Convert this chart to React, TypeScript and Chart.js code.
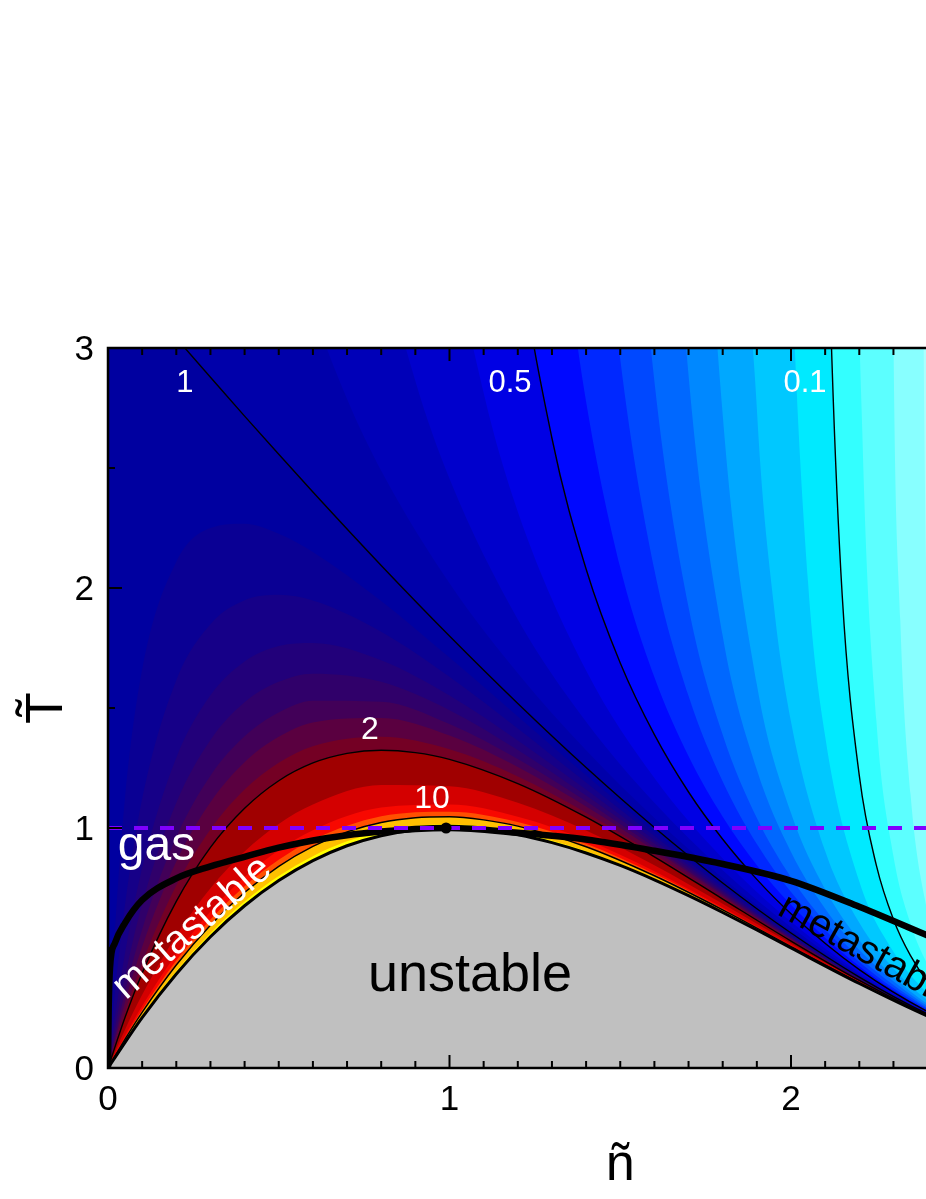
import React, { useEffect, useRef } from "react";
import { Chart, registerables } from "chart.js";

Chart.register(...registerables);

// ---------- axes ----------
const xMajorTicks = [0, 1, 2, 3];
const xTickLabels = ["0", "1", "2", "3"];
const xMinorTicks = [
  0.1, 0.2, 0.3, 0.4, 0.5, 0.6, 0.7, 0.8, 0.9, 1.1, 1.2, 1.3, 1.4, 1.5, 1.6, 1.7, 1.8, 1.9,
  2.1, 2.2, 2.3, 2.4, 2.5, 2.6, 2.7, 2.8, 2.9,
];
const yMajorTicks = [0, 1, 2, 3];
const yTickLabels = ["0", "1", "2", "3"];
const yMinorTicks = [0.5, 1.5, 2.5];

// ---------- curves: [n, T] ----------
// unstable region boundary (spinodal)
const spinodal = [
  [0, 0], [0.1, 0.21], [0.2, 0.392], [0.3, 0.547], [0.4, 0.676], [0.5, 0.781], [0.6, 0.864],
  [0.7, 0.926], [0.8, 0.968], [0.9, 0.992], [1.0, 1.0], [1.1, 0.993], [1.2, 0.972], [1.3, 0.939],
  [1.4, 0.896], [1.5, 0.844], [1.6, 0.784], [1.7, 0.718], [1.8, 0.648], [1.9, 0.575], [2.0, 0.5],
  [2.2, 0.352], [2.4, 0.216], [2.6, 0.104], [2.8, 0.028], [3.0, 0],
];
// thick coexistence curve
const binodal = [
  [0, 0], [0.002, 0.25], [0.006, 0.42], [0.02, 0.52], [0.05, 0.605], [0.1, 0.7], [0.2, 0.79],
  [0.3, 0.84], [0.4, 0.88], [0.5, 0.918], [0.6, 0.948], [0.7, 0.97], [0.8, 0.985], [0.9, 0.996],
  [1.0, 1.0], [1.2, 0.98], [1.4, 0.952], [1.6, 0.905], [1.8, 0.85], [2.0, 0.78], [2.2, 0.672],
  [2.4, 0.552], [2.6, 0.43],
];
// critical point
const criticalPoint = [[0.99, 1.0]];
// reference isotherm
const isothermT1 = [[0, 1], [3, 1]];

// iso-compressibility contours above 1 (domes over the spinodal)
const level107 = [
  [0, 0], [0.01, 0.312], [0.02, 0.57], [0.05, 1.129], [0.1, 1.66], [0.2, 2.109], [0.3, 2.25],
  [0.4, 2.268], [0.5, 2.226], [0.6, 2.15], [0.8, 1.946], [1.0, 1.71], [1.2, 1.465], [1.4, 1.22],
  [1.6, 0.984], [1.8, 0.762], [2.0, 0.558], [2.2, 0.377], [2.4, 0.2244], [2.6, 0.106], [3, 0],
];
const level115 = [
  [0, 0], [0.02, 0.313], [0.05, 0.683], [0.1, 1.122], [0.2, 1.616], [0.3, 1.849], [0.4, 1.949],
  [0.5, 1.972], [0.6, 1.948], [0.8, 1.818], [1.0, 1.63], [1.2, 1.415], [1.4, 1.19], [1.6, 0.967],
  [1.8, 0.753], [2.0, 0.553], [2.2, 0.375], [2.4, 0.224], [2.6, 0.106], [3, 0],
];
const level125 = [
  [0, 0], [0.02, 0.211], [0.05, 0.48], [0.1, 0.833], [0.2, 1.293], [0.3, 1.553], [0.4, 1.694],
  [0.5, 1.758], [0.6, 1.771], [0.8, 1.699], [1.0, 1.552], [1.2, 1.365], [1.4, 1.16], [1.6, 0.949],
  [1.8, 0.743], [2.0, 0.549], [2.2, 0.373], [2.4, 0.2231], [2.6, 0.1055], [3, 0],
];
const level135 = [
  [0, 0], [0.02, 0.165], [0.05, 0.383], [0.1, 0.683], [0.2, 1.105], [0.3, 1.367], [0.4, 1.524],
  [0.5, 1.609], [0.6, 1.643], [0.8, 1.609], [1.0, 1.491], [1.2, 1.325], [1.4, 1.135], [1.6, 0.935],
  [1.8, 0.735], [2.0, 0.545], [2.2, 0.372], [2.4, 0.2226], [2.6, 0.105], [3, 0],
];
const level147 = [
  [0, 0], [0.05, 0.318], [0.1, 0.577], [0.2, 0.962], [0.3, 1.218], [0.4, 1.382], [0.5, 1.481],
  [0.6, 1.53], [0.8, 1.526], [1.0, 1.433], [1.2, 1.287], [1.4, 1.111], [1.6, 0.92], [1.8, 0.727],
  [2.0, 0.541], [2.2, 0.37], [2.4, 0.222], [2.6, 0.105], [3, 0],
];
const level16 = [
  [0, 0], [0.05, 0.275], [0.1, 0.505], [0.2, 0.86], [0.3, 1.107], [0.4, 1.274], [0.5, 1.38],
  [0.6, 1.44], [0.8, 1.458], [1.0, 1.385], [1.2, 1.254], [1.4, 1.09], [1.6, 0.908], [1.8, 0.72],
  [2.0, 0.537], [2.2, 0.368], [2.4, 0.2215], [2.6, 0.105], [3, 0],
];
const level18 = [
  [0, 0], [0.05, 0.235], [0.1, 0.437], [0.2, 0.76], [0.3, 0.994], [0.4, 1.16], [0.5, 1.272],
  [0.6, 1.341], [0.8, 1.38], [1.0, 1.328], [1.2, 1.215], [1.4, 1.064], [1.6, 0.892], [1.8, 0.711],
  [2.0, 0.533], [2.2, 0.3665], [2.4, 0.221], [2.6, 0.105], [3, 0],
];
const level2 = [
  [0, 0], [0.05, 0.211], [0.1, 0.395], [0.2, 0.694], [0.3, 0.919], [0.4, 1.082], [0.5, 1.197],
  [0.6, 1.271], [0.7, 1.311], [0.8, 1.324], [0.9, 1.314], [1.0, 1.286], [1.2, 1.185], [1.4, 1.045],
  [1.6, 0.88], [1.8, 0.704], [2.0, 0.529], [2.2, 0.365], [2.4, 0.22], [2.6, 0.105], [3, 0],
];
const level3 = [
  [0, 0], [0.05, 0.1605], [0.1, 0.305], [0.2, 0.552], [0.3, 0.749], [0.4, 0.902], [0.5, 1.017],
  [0.6, 1.098], [0.8, 1.179], [1.0, 1.174], [1.2, 1.105], [1.4, 0.99], [1.6, 0.845], [1.8, 0.6845],
  [2.0, 0.519], [2.2, 0.361], [2.4, 0.219], [2.6, 0.1045], [3, 0],
];
const level5 = [
  [0, 0], [0.05, 0.135], [0.1, 0.2586], [0.2, 0.4747], [0.3, 0.6525], [0.4, 0.7955], [0.5, 0.907],
  [0.6, 0.991], [0.8, 1.085], [1.0, 1.0976], [1.2, 1.047], [1.4, 0.95], [1.6, 0.82], [1.8, 0.669],
  [2.0, 0.511], [2.2, 0.357], [2.4, 0.2177], [2.6, 0.104], [3, 0],
];
const level7 = [
  [0, 0], [0.05, 0.1262], [0.1, 0.2426], [0.2, 0.4477], [0.3, 0.6183], [0.4, 0.7573], [0.5, 0.8673],
  [0.6, 0.9509], [0.8, 1.0486], [1.0, 1.0678], [1.2, 1.0247], [1.4, 0.9339], [1.6, 0.8092],
  [1.8, 0.6632], [2.0, 0.508], [2.2, 0.3556], [2.4, 0.2172], [2.6, 0.104], [3, 0],
];
const level10 = [
  [0, 0], [0.05, 0.1204], [0.1, 0.232], [0.2, 0.429], [0.3, 0.595], [0.4, 0.731], [0.5, 0.84],
  [0.6, 0.923], [0.7, 0.984], [0.8, 1.023], [0.9, 1.043], [1.0, 1.047], [1.1, 1.034], [1.2, 1.008],
  [1.4, 0.922], [1.6, 0.801], [1.8, 0.659], [2.0, 0.506], [2.2, 0.355], [2.4, 0.217], [2.6, 0.104], [3, 0],
];
const level30 = [
  [0, 0], [0.1, 0.217], [0.2, 0.4037], [0.3, 0.5619], [0.4, 0.6934], [0.5, 0.7998], [0.6, 0.8828],
  [0.7, 0.9443], [0.8, 0.9857], [0.9, 1.0087], [1.0, 1.015], [1.1, 1.0062], [1.2, 0.9838],
  [1.4, 0.9046], [1.6, 0.7897], [1.8, 0.6515], [2.0, 0.5019], [2.2, 0.353], [2.4, 0.2163], [2.6, 0.104], [3, 0],
];

// iso-compressibility contours at or below 1
const level1 = [
  [0, 3.375], [0.1, 3.207], [0.2, 3.041], [0.3, 2.878], [0.4, 2.716], [0.5, 2.557], [0.6, 2.4],
  [0.8, 2.094], [1.0, 1.8], [1.2, 1.519], [1.4, 1.252], [1.6, 1.002], [1.8, 0.771], [2.0, 0.5625],
  [2.2, 0.379], [2.4, 0.225], [2.6, 0.106], [3, 0],
];
const level088 = [
  [0.25, 10.47], [0.3, 6.873], [0.4, 4.615], [0.5, 3.705], [0.6, 3.168], [0.7, 2.788], [0.8, 2.489],
  [1.0, 2.02], [1.2, 1.645], [1.4, 1.324], [1.6, 1.042], [1.8, 0.792], [2.0, 0.572], [2.2, 0.383],
  [2.4, 0.2263], [2.6, 0.106], [3, 0],
];
const level075 = [
  [0.6, 5.89], [0.7, 4.28], [0.8, 3.421], [0.9, 2.862], [1.0, 2.455], [1.2, 1.869], [1.4, 1.443],
  [1.6, 1.105], [1.8, 0.824], [2.0, 0.587], [2.2, 0.389], [2.4, 0.228], [2.6, 0.1065], [3, 0],
];
const level062 = [
  [0.7, 17.81], [0.8, 7.299], [0.9, 4.732], [1.0, 3.532], [1.1, 2.812], [1.2, 2.318], [1.4, 1.656],
  [1.6, 1.208], [1.8, 0.873], [2.0, 0.609], [2.2, 0.3976], [2.4, 0.2309], [2.6, 0.107], [3, 0],
];
const level05 = [
  [1.0, 9.0], [1.1, 5.02], [1.2, 3.471], [1.3, 2.624], [1.4, 2.079], [1.5, 1.6875], [1.6, 1.389],
  [1.7, 1.15], [1.8, 0.953], [1.9, 0.786], [2.0, 0.643], [2.2, 0.41], [2.4, 0.235], [2.6, 0.108], [3, 0],
];
const level042 = [
  [1.15, 10.4], [1.2, 6.804], [1.3, 3.989], [1.35, 3.284], [1.4, 2.776], [1.5, 2.085], [1.6, 1.628],
  [1.7, 1.299], [1.8, 1.047], [1.9, 0.845], [2.0, 0.68], [2.2, 0.424], [2.4, 0.2387], [2.6, 0.1086], [3, 0],
];
const level035 = [
  [1.3, 11.38], [1.4, 4.78], [1.45, 3.67], [1.5, 2.953], [1.6, 2.075], [1.7, 1.55], [1.8, 1.194],
  [1.9, 0.933], [2.0, 0.733], [2.2, 0.442], [2.4, 0.244], [2.6, 0.11], [3, 0],
];
const level03 = [
  [1.4, 17.28], [1.45, 7.904], [1.5, 5.0625], [1.55, 3.682], [1.6, 2.861], [1.7, 1.92], [1.8, 1.389],
  [1.9, 1.0415], [2.0, 0.794], [2.1, 0.6075], [2.2, 0.461], [2.4, 0.249], [2.6, 0.1105], [3, 0],
];
const level025 = [
  [1.55, 12.43], [1.6, 6.08], [1.65, 3.957], [1.7, 2.886], [1.8, 1.8], [1.9, 1.243], [2.0, 0.9],
  [2.1, 0.664], [2.2, 0.492], [2.4, 0.257], [2.6, 0.112], [3, 0],
];
const level021 = [
  [1.65, 21.05], [1.7, 6.787], [1.75, 3.945], [1.8, 2.722], [1.9, 1.5975], [2.0, 1.062], [2.1, 0.744],
  [2.2, 0.532], [2.3, 0.38], [2.4, 0.2668], [2.6, 0.1136], [3, 0],
];
const level017 = [
  [1.8, 11.0], [1.85, 4.51], [1.9, 2.748], [1.95, 1.924], [2.0, 1.443], [2.1, 0.904], [2.2, 0.605],
  [2.3, 0.4145], [2.4, 0.2825], [2.6, 0.116], [3, 0],
];
const level013 = [
  [1.95, 9.316], [1.98, 4.649], [2.0, 3.441], [2.05, 2.023], [2.1, 1.382], [2.2, 0.777], [2.3, 0.4848],
  [2.4, 0.312], [2.5, 0.1987], [2.6, 0.1205], [3, 0],
];
const level01 = [
  [2.09, 5.42], [2.11, 3.48], [2.12, 2.942], [2.15, 1.969], [2.2, 1.218], [2.25, 0.844], [2.3, 0.619],
  [2.35, 0.468], [2.4, 0.36], [2.5, 0.216], [2.6, 0.126], [3, 0],
];
const level008 = [
  [2.17, 8.65], [2.19, 4.05], [2.21, 2.589], [2.25, 1.446], [2.3, 0.882], [2.35, 0.601], [2.4, 0.432],
  [2.5, 0.239], [2.6, 0.134], [3, 0],
];
const level006 = [
  [2.28, 7.39], [2.3, 3.043], [2.32, 1.866], [2.35, 1.141], [2.4, 0.648], [2.45, 0.421], [2.5, 0.291],
  [2.6, 0.148], [3, 0],
];
const level0045 = [
  [2.375, 6.53], [2.39, 2.737], [2.42, 1.2016], [2.45, 0.732], [2.5, 0.408], [2.6, 0.172], [3, 0],
];

// ---------- colours (styles, kept apart from the data) ----------
const baseColor = "#0000a0";
const domeLevels = [level107, level115, level125, level135, level147, level16, level18, level2, level3, level5, level7, level10, level30];
const domeColors = ["#0a0094", "#160088", "#22007a", "#30006a", "#420058", "#5a0040", "#740024", "#a00000", "#d40000", "#f80800", "#ff5000", "#ffc000", "#ffff00"];
const openLevels = [level1, level088, level075, level062, level05, level042, level035, level03, level025, level021, level017, level013, level01, level008, level006, level0045];
const openColors = ["#0000aa", "#0000b8", "#0000cc", "#0000e4", "#0008ff", "#0028ff", "#0048ff", "#0068ff", "#0088ff", "#00a8ff", "#00c8ff", "#00eaff", "#33ffff", "#5cffff", "#88ffff", "#aaffff"];
const contourLines = [level1, level05, level01, level2, level10];

const FONT = '"Liberation Sans", Arial, Helvetica, sans-serif';

type Note = { text: string; x: number; y: number; size: number; color: string; rot: number; align: CanvasTextAlign; base: CanvasTextBaseline };
const notes: Note[] = [
  { text: "1", x: 0.225, y: 2.854, size: 31, color: "#ffffff", rot: 0, align: "center", base: "middle" },
  { text: "0.5", x: 1.177, y: 2.854, size: 31, color: "#ffffff", rot: 0, align: "center", base: "middle" },
  { text: "0.1", x: 2.041, y: 2.854, size: 31, color: "#ffffff", rot: 0, align: "center", base: "middle" },
  { text: "2", x: 0.767, y: 1.408, size: 32, color: "#ffffff", rot: 0, align: "center", base: "middle" },
  { text: "10", x: 0.949, y: 1.12, size: 32, color: "#ffffff", rot: 0, align: "center", base: "middle" },
  { text: "gas", x: 0.142, y: 0.867, size: 48, color: "#ffffff", rot: 0, align: "center", base: "alphabetic" },
  { text: "metastable", x: 0.247, y: 0.583, size: 40, color: "#ffffff", rot: -41, align: "center", base: "middle" },
  { text: "unstable", x: 1.06, y: 0.383, size: 54, color: "#000000", rot: 0, align: "center", base: "middle" },
  { text: "metastable", x: 1.956, y: 0.642, size: 40, color: "#000000", rot: 29, align: "left", base: "alphabetic" },
];

const toXY = (a: number[][]) => a.map(([x, y]) => ({ x, y }));

const decor = {
  id: "decor",
  beforeDatasetsDraw(chart: any) {
    const { ctx, chartArea: a } = chart;
    ctx.save();
    ctx.fillStyle = baseColor;
    ctx.fillRect(a.left, a.top, a.right - a.left, a.bottom - a.top);
    ctx.restore();
  },
  afterDatasetsDraw(chart: any) {
    const { ctx, chartArea: a } = chart;
    const xs = chart.scales.x;
    const ys = chart.scales.y;
    ctx.save();

    for (const n of notes) {
      ctx.save();
      ctx.translate(xs.getPixelForValue(n.x), ys.getPixelForValue(n.y));
      ctx.rotate((n.rot * Math.PI) / 180);
      ctx.font = `${n.size}px ${FONT}`;
      ctx.fillStyle = n.color;
      ctx.textAlign = n.align;
      ctx.textBaseline = n.base;
      ctx.fillText(n.text, 0, 0);
      ctx.restore();
    }

    ctx.strokeStyle = "#000";
    ctx.lineWidth = 2.5;
    ctx.beginPath();
    ctx.moveTo(a.left, a.top);
    ctx.lineTo(a.right, a.top);
    ctx.lineTo(a.right, a.bottom);
    ctx.lineTo(a.left, a.bottom);
    ctx.closePath();
    ctx.stroke();

    ctx.lineWidth = 2;
    ctx.beginPath();
    for (const v of xMajorTicks) {
      const px = xs.getPixelForValue(v);
      ctx.moveTo(px, a.bottom); ctx.lineTo(px, a.bottom - 13);
      ctx.moveTo(px, a.top); ctx.lineTo(px, a.top + 13);
    }
    for (const v of xMinorTicks) {
      const px = xs.getPixelForValue(v);
      ctx.moveTo(px, a.bottom); ctx.lineTo(px, a.bottom - 7);
      ctx.moveTo(px, a.top); ctx.lineTo(px, a.top + 7);
    }
    for (const v of yMajorTicks) {
      const py = ys.getPixelForValue(v);
      ctx.moveTo(a.left, py); ctx.lineTo(a.left + 14, py);
      ctx.moveTo(a.right, py); ctx.lineTo(a.right - 14, py);
    }
    for (const v of yMinorTicks) {
      const py = ys.getPixelForValue(v);
      ctx.moveTo(a.left, py); ctx.lineTo(a.left + 7, py);
      ctx.moveTo(a.right, py); ctx.lineTo(a.right - 7, py);
    }
    ctx.stroke();

    ctx.fillStyle = "#000";
    ctx.font = `35px ${FONT}`;
    ctx.textAlign = "center";
    ctx.textBaseline = "alphabetic";
    xMajorTicks.forEach((v, i) => {
      ctx.fillText(xTickLabels[i], xs.getPixelForValue(v), a.bottom + 42);
    });
    ctx.textAlign = "right";
    yMajorTicks.forEach((v, i) => {
      ctx.fillText(yTickLabels[i], a.left - 14, ys.getPixelForValue(v) + 12);
    });

    ctx.font = `52px ${FONT}`;
    ctx.textAlign = "center";
    ctx.textBaseline = "alphabetic";
    ctx.fillText("\u00f1", (a.left + a.right) / 2, 1180);
    ctx.save();
    ctx.translate(62, (a.top + a.bottom) / 2);
    ctx.rotate(-Math.PI / 2);
    ctx.fillText("T\u0303", 0, 0);
    ctx.restore();

    ctx.restore();
  },
};

export default function App() {
  const ref = useRef<HTMLCanvasElement>(null);
  useEffect(() => {
    const canvas = ref.current;
    if (!canvas) return;
    const datasets: any[] = [];
    const common = {
      pointRadius: 0,
      cubicInterpolationMode: "monotone",
      borderColor: "rgba(0,0,0,0)",
      borderWidth: 0,
    };
    domeLevels.forEach((pts, i) =>
      datasets.push({ ...common, data: toXY(pts), fill: "origin", backgroundColor: domeColors[i] })
    );
    openLevels.forEach((pts, i) =>
      datasets.push({ ...common, data: toXY(pts), fill: "end", backgroundColor: openColors[i] })
    );
    datasets.push({
      ...common,
      data: toXY(spinodal),
      fill: "origin",
      backgroundColor: "#c0c0c0",
      borderColor: "#000",
      borderWidth: 3,
    });
    contourLines.forEach((pts) =>
      datasets.push({ ...common, data: toXY(pts), fill: false, borderColor: "#000", borderWidth: 1.4 })
    );
    datasets.push({ ...common, data: toXY(binodal), fill: false, borderColor: "#000", borderWidth: 6.5 });
    datasets.push({
      ...common,
      data: toXY(isothermT1),
      fill: false,
      borderColor: "#8000ff",
      borderWidth: 4,
      borderDash: [14, 12],
    });
    datasets.push({
      data: toXY(criticalPoint),
      showLine: false,
      fill: false,
      pointRadius: 5.5,
      pointBackgroundColor: "#000",
      pointBorderColor: "#000",
      pointBorderWidth: 0,
    });
    const n = datasets.length;
    datasets.forEach((d, i) => (d.order = n - i));

    const chart = new Chart(canvas, {
      type: "line",
      data: { datasets },
      options: {
        responsive: false,
        animation: false,
        devicePixelRatio: 1,
        layout: { padding: { left: 108, right: 67.5, top: 348, bottom: 131 } },
        scales: {
          x: { type: "linear", min: 0, max: 3, display: false },
          y: { type: "linear", min: 0, max: 3, display: false },
        },
        plugins: { legend: { display: false }, tooltip: { enabled: false } },
        events: [],
      },
      plugins: [decor],
    } as any);
    return () => chart.destroy();
  }, []);
  return (
    <div style={{ position: "absolute", left: 0, top: 0, width: 926, height: 1199, overflow: "hidden", background: "#fff" }}>
      <canvas ref={ref} width={1200} height={1199} style={{ display: "block", width: 1200, height: 1199 }} />
    </div>
  );
}
